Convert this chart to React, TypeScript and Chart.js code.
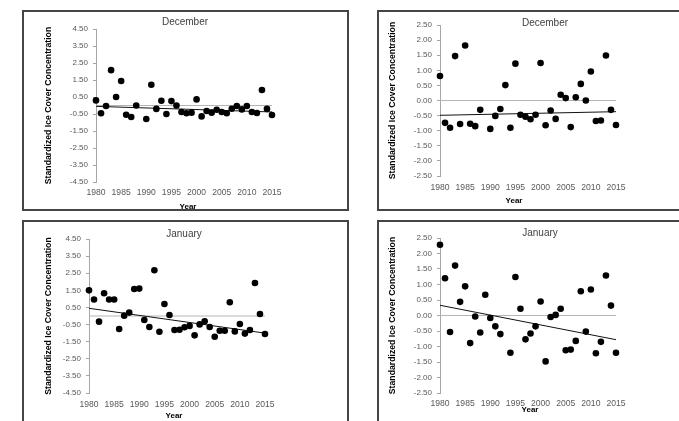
import React, { useEffect, useRef } from 'react';
import { Chart, registerables } from 'chart.js';

Chart.register(...registerables);

// ---------- data ----------
const YEARS = [
  1980, 1981, 1982, 1983, 1984, 1985, 1986, 1987, 1988, 1989,
  1990, 1991, 1992, 1993, 1994, 1995, 1996, 1997, 1998, 1999,
  2000, 2001, 2002, 2003, 2004, 2005, 2006, 2007, 2008, 2009,
  2010, 2011, 2012, 2013, 2014, 2015,
];

const DEC_LEFT: (number | null)[] = [
  0.3, -0.46, -0.03, 2.08, 0.5, 1.44, -0.54, -0.68, 0.0, null,
  -0.79, 1.22, -0.2, 0.28, -0.5, 0.26, 0.0, -0.38, -0.46, -0.42,
  0.36, -0.64, -0.32, -0.42, -0.25, -0.38, -0.46, -0.19, -0.03, -0.23,
  -0.03, -0.38, -0.44, 0.91, -0.2, -0.56,
];
const DEC_RIGHT: (number | null)[] = [
  0.81, -0.74, -0.9, 1.47, -0.78, 1.82, -0.77, -0.85, -0.31, null,
  -0.94, -0.51, -0.28, 0.51, -0.9, 1.22, -0.47, -0.54, -0.62, -0.47,
  1.24, -0.82, -0.33, -0.61, 0.19, 0.08, -0.88, 0.11, 0.55, 0.0,
  0.96, -0.68, -0.66, 1.49, -0.31, -0.81,
];
const JAN_LEFT: (number | null)[] = [
  1.5, 0.96, -0.33, 1.33, 0.96, 0.96, -0.76, 0.02, 0.2, 1.58,
  1.6, -0.23, -0.64, 2.67, -0.92, 0.7, 0.06, -0.82, -0.8, -0.66,
  -0.58, -1.13, -0.49, -0.31, -0.64, -1.21, -0.86, -0.86, 0.8, -0.9,
  -0.47, -1.03, -0.82, 1.93, 0.12, -1.05,
];
const JAN_RIGHT: (number | null)[] = [
  2.28, 1.2, -0.53, 1.61, 0.44, 0.94, -0.89, -0.03, -0.55, 0.67,
  -0.08, -0.35, -0.6, null, -1.2, 1.24, 0.22, -0.77, -0.58, -0.35,
  0.45, -1.48, -0.05, 0.02, 0.22, -1.12, -1.1, -0.82, 0.78, -0.52,
  0.84, -1.22, -0.85, 1.29, 0.32, -1.2,
];

const TREND_YEARS = [1980, 2015];
const TREND_DEC_LEFT = [-0.05, -0.38];
const TREND_DEC_RIGHT = [-0.49, -0.37];
const TREND_JAN_LEFT = [0.45, -1.0];
const TREND_JAN_RIGHT = [0.33, -0.78];

const AXIS_CROSS = [0, 0];

const WIDE_RANGE = { min: -4.5, max: 4.5, step: 1 };
const NARROW_RANGE = { min: -2.5, max: 2.5, step: 0.5 };

const Y_TITLE = 'Standardized Ice Cover Concentration';
const X_TITLE = 'Year';

// ---------- layout ----------
const FONT = "'Liberation Sans', Arial, sans-serif";

type PanelCfg = {
  title: string;
  values: (number | null)[];
  trend: number[];
  range: { min: number; max: number; step: number };
  frame: { left: number; top: number; w: number; h: number };
  cw: number;
  ch: number;
  area: { l: number; r: number; t: number; b: number };
  yTitlePad: number;
  xPad: number;
  titlePos: { x: number; y: number };
  xTitlePos: { x: number; y: number };
};

const PANELS: PanelCfg[] = [
  {
    title: 'December', values: DEC_LEFT, trend: TREND_DEC_LEFT, range: WIDE_RANGE,
    frame: { left: 22, top: 10, w: 327, h: 201 }, cw: 323, ch: 215,
    area: { l: 72, r: 248, t: 17, b: 170 }, yTitlePad: 19, xPad: 5,
    titlePos: { x: 161, y: 10 }, xTitlePos: { x: 164, y: 195 },
  },
  {
    title: 'December', values: DEC_RIGHT, trend: TREND_DEC_RIGHT, range: NARROW_RANGE,
    frame: { left: 377, top: 10, w: 340, h: 201 }, cw: 310, ch: 215,
    area: { l: 61, r: 237, t: 13, b: 164 }, yTitlePad: 8, xPad: 6,
    titlePos: { x: 166, y: 11 }, xTitlePos: { x: 135, y: 189 },
  },
  {
    title: 'January', values: JAN_LEFT, trend: TREND_JAN_LEFT, range: WIDE_RANGE,
    frame: { left: 22, top: 220, w: 327, h: 260 }, cw: 323, ch: 215,
    area: { l: 65, r: 241, t: 17, b: 171 }, yTitlePad: 19, xPad: 6,
    titlePos: { x: 160, y: 12 }, xTitlePos: { x: 150, y: 194 },
  },
  {
    title: 'January', values: JAN_RIGHT, trend: TREND_JAN_RIGHT, range: NARROW_RANGE,
    frame: { left: 377, top: 220, w: 340, h: 260 }, cw: 310, ch: 215,
    area: { l: 61, r: 237, t: 16, b: 171 }, yTitlePad: 8, xPad: 5,
    titlePos: { x: 161, y: 11 }, xTitlePos: { x: 151, y: 188 },
  },
];

const freeText = {
  id: 'freeText',
  afterDraw(chart: any, _args: any, opts: any) {
    const ctx = chart.ctx;
    for (const t of opts.items || []) {
      ctx.save();
      ctx.font = t.font;
      ctx.fillStyle = t.color;
      ctx.textAlign = 'center';
      ctx.textBaseline = 'middle';
      ctx.fillText(t.text, t.x, t.y);
      ctx.restore();
    }
  },
};

const fmt = (v: number) => (Math.abs(v) < 1e-9 ? 0 : v).toFixed(2);

function Panel({ cfg }: { cfg: PanelCfg }) {
  const ref = useRef<HTMLCanvasElement>(null);
  useEffect(() => {
    if (!ref.current) return;
    const points = YEARS.map((x, i) => (cfg.values[i] == null ? null : { x, y: cfg.values[i] as number })).filter(
      (p) => p !== null,
    ) as { x: number; y: number }[];
    const x0 = YEARS[0];
    const x1 = YEARS[YEARS.length - 1];
    const chart = new Chart(ref.current, {
      type: 'scatter',
      data: {
        datasets: [
          {
            type: 'line',
            label: 'axis',
            data: AXIS_CROSS.map((y, i) => ({ x: i === 0 ? x0 : x1, y })),
            borderColor: '#b4b4b4',
            borderWidth: 1,
            pointRadius: 0,
            order: 3,
            clip: false,
          } as any,
          {
            type: 'line',
            label: 'trend',
            data: TREND_YEARS.map((x, i) => ({ x, y: cfg.trend[i] })),
            borderColor: '#111',
            borderWidth: 1,
            pointRadius: 0,
            order: 2,
            clip: false,
          } as any,
          {
            type: 'scatter',
            label: cfg.title,
            data: points,
            backgroundColor: '#000',
            borderColor: '#000',
            borderWidth: 0,
            pointRadius: 3.3,
            order: 1,
            clip: false,
          } as any,
        ],
      },
      options: {
        responsive: false,
        animation: false,
        events: [],
        layout: {
          padding: {
            left: 0,
            top: cfg.area.t,
            right: cfg.cw - cfg.area.r,
            bottom: cfg.ch - cfg.area.b - 20,
          },
        },
        plugins: {
          legend: { display: false },
          tooltip: { enabled: false },
          title: { display: false },
          freeText: {
            items: [
              { text: cfg.title, x: cfg.titlePos.x, y: cfg.titlePos.y, font: `10px ${FONT}`, color: '#404040' },
              { text: X_TITLE, x: cfg.xTitlePos.x, y: cfg.xTitlePos.y, font: `bold 8px ${FONT}`, color: '#000' },
            ],
          },
        } as any,
        scales: {
          x: {
            type: 'linear',
            min: x0,
            max: x1,
            afterFit: (s: any) => {
              s.height = 20;
            },
            ticks: {
              stepSize: 5,
              autoSkip: false,
              maxRotation: 0,
              callback: (v: any) => String(v),
              padding: cfg.xPad,
              color: '#595959',
              font: { family: FONT, size: 8.6 },
            },
            grid: { display: false, drawTicks: false },
            border: { display: false },
          },
          y: {
            type: 'linear',
            min: cfg.range.min,
            max: cfg.range.max,
            afterFit: (s: any) => {
              s.width = cfg.area.l;
            },
            ticks: {
              stepSize: cfg.range.step,
              autoSkip: false,
              callback: (v: any) => fmt(Number(v)),
              padding: 5,
              color: '#595959',
              font: { family: FONT, size: 8 },
            },
            grid: { display: true, drawOnChartArea: false, drawTicks: true, tickLength: 3, color: '#a6a6a6' },
            border: { display: true, color: '#a6a6a6', width: 1 },
            title: {
              display: true,
              text: Y_TITLE,
              color: '#000',
              font: { family: FONT, size: 8.7, weight: 'bold' },
              padding: { top: cfg.yTitlePad, bottom: 0 },
            },
          },
        },
      },
      plugins: [freeText as any],
    });
    return () => chart.destroy();
  }, [cfg]);

  return (
    <div
      style={{
        position: 'absolute',
        left: cfg.frame.left,
        top: cfg.frame.top,
        width: cfg.frame.w,
        height: cfg.frame.h,
        border: '2px solid #454545',
        boxSizing: 'border-box',
        overflow: 'hidden',
        background: '#fff',
      }}
    >
      <canvas ref={ref} width={cfg.cw} height={cfg.ch} style={{ display: 'block', width: cfg.cw, height: cfg.ch }} />
    </div>
  );
}

export default function App() {
  return (
    <div
      style={{
        position: 'fixed',
        left: 0,
        top: 0,
        width: 679,
        height: 421,
        overflow: 'hidden',
        background: '#fff',
      }}
    >
      {PANELS.map((p, i) => (
        <Panel key={i} cfg={p} />
      ))}
    </div>
  );
}
